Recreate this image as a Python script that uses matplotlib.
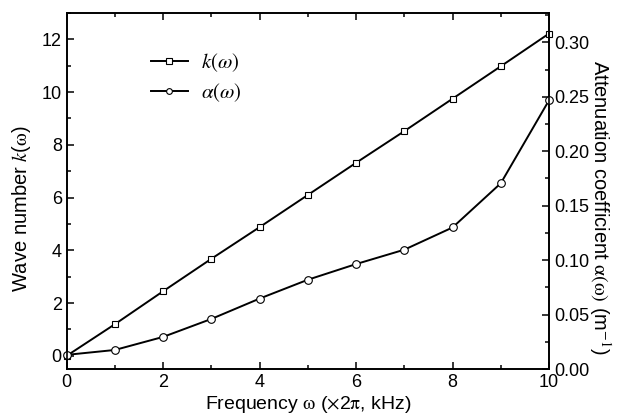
import matplotlib
matplotlib.use("Agg")
import matplotlib.pyplot as plt
from matplotlib.ticker import MultipleLocator, FormatStrFormatter

plt.rcParams['font.family'] = ['Liberation Sans', 'DejaVu Sans']
plt.rcParams['mathtext.fontset'] = 'stix'

freq = [0, 1, 2, 3, 4, 5, 6, 7, 8, 9, 10]
k_vals = [0.0, 1.2, 2.45, 3.68, 4.88, 6.1, 7.32, 8.52, 9.75, 10.98, 12.22]
alpha_vals = [0.013, 0.0175, 0.0295, 0.046, 0.0647, 0.082, 0.0964, 0.1096, 0.130, 0.1706, 0.2468]

fig = plt.figure(figsize=(6.25, 4.2), dpi=100)
ax = fig.add_axes([0.1067, 0.1214, 0.7717, 0.8476])
ax2 = ax.twinx()

l1, = ax.plot(freq, k_vals, color='black', lw=1.4, marker='s', ms=5,
              mfc='white', mec='black', mew=0.8, label=r'$k(\omega)$')
l2, = ax2.plot(freq, alpha_vals, color='black', lw=1.4, marker='o', ms=5.5,
               mfc='white', mec='black', mew=0.8, label=r'$\alpha(\omega)$')
for l in (l1, l2):
    l.set_clip_on(False)

ax.set_xlim(0, 10)
ax.set_ylim(-0.5, 13)
ax2.set_ylim(0, 0.327)

ax.xaxis.set_major_locator(MultipleLocator(2))
ax.xaxis.set_minor_locator(MultipleLocator(1))
ax.yaxis.set_major_locator(MultipleLocator(2))
ax.yaxis.set_minor_locator(MultipleLocator(1))
ax2.yaxis.set_major_locator(MultipleLocator(0.05))
ax2.yaxis.set_minor_locator(MultipleLocator(0.025))
ax2.yaxis.set_major_formatter(FormatStrFormatter('%.2f'))

ax.tick_params(which='both', direction='in', top=True, labelsize=13, width=1.1)
ax.tick_params(which='major', length=5)
ax.tick_params(which='minor', length=3)
ax2.tick_params(which='both', direction='in', labelsize=13, width=1.1)
ax2.tick_params(which='major', length=5)
ax2.tick_params(which='minor', length=3)
for a in (ax, ax2):
    for s in a.spines.values():
        s.set_linewidth(1.2)

ax.set_xlabel(r'Frequency $\mathrm{\omega}$ ($\times$2$\mathrm{\pi}$, kHz)', fontsize=14, labelpad=2)
ax.set_ylabel(r'Wave number $\mathit{k}$($\mathrm{\omega}$)', fontsize=14.5, labelpad=6)
ax2.set_ylabel(r'Attenuation coefficient $\mathrm{\alpha(\omega)}$ (m$^{-1}$)', fontsize=14.5,
               rotation=270, labelpad=17)
ax.yaxis.label.set_y(0.45)
ax2.yaxis.label.set_y(0.455)

leg = ax.legend(handles=[l1, l2], loc='upper left', bbox_to_anchor=(0.135, 0.945),
                frameon=False, fontsize=15, markerscale=0.75, handlelength=1.8,
                handletextpad=0.6, labelspacing=0.35)

fig.savefig('out.png', dpi=100)
